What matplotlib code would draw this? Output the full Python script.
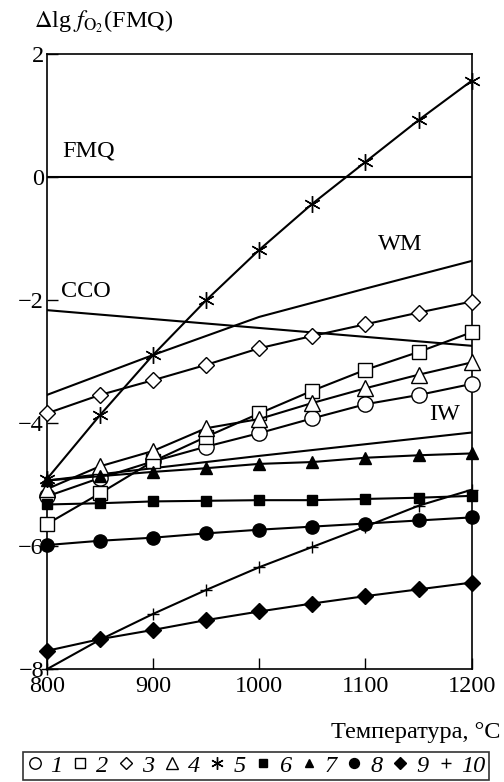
import numpy as np
import matplotlib
matplotlib.use('Agg')
import matplotlib.pyplot as plt
from matplotlib.lines import Line2D

plt.rcParams['font.family'] = ['Liberation Serif', 'DejaVu Serif']
plt.rcParams['mathtext.fontset'] = 'stix'

# temperature grid, deg C
temps = [800, 850, 900, 950, 1000, 1050, 1100, 1150, 1200]

# buffer curves (dlg fO2 relative to FMQ)
fmq = [0, 0, 0, 0, 0, 0, 0, 0, 0]
wm_t = [800, 900, 1000, 1100, 1200]
wm = [-3.54, -2.89, -2.27, -1.81, -1.36]
cco_t = [800, 1200]
cco = [-2.16, -2.74]
iw_t = [800, 900, 1000, 1100, 1200]
iw = [-4.93, -4.73, -4.53, -4.34, -4.15]

# samples 1..10
s1 = [-5.19, -4.89, -4.62, -4.38, -4.16, -3.92, -3.69, -3.54, -3.36]
s2 = [-5.64, -5.14, -4.62, -4.22, -3.84, -3.47, -3.13, -2.84, -2.52]
s3 = [-3.84, -3.54, -3.30, -3.05, -2.78, -2.58, -2.39, -2.20, -2.02]
s4 = [-5.07, -4.70, -4.45, -4.08, -3.93, -3.67, -3.43, -3.21, -3.01]
s5 = [-4.91, -3.87, -2.89, -2.00, -1.18, -0.43, 0.25, 0.93, 1.57]
s6 = [-5.32, -5.30, -5.27, -5.26, -5.25, -5.25, -5.23, -5.21, -5.18]
s7 = [-4.93, -4.86, -4.79, -4.73, -4.66, -4.63, -4.56, -4.52, -4.49]
s8 = [-5.98, -5.91, -5.86, -5.79, -5.73, -5.68, -5.63, -5.58, -5.53]
s9 = [-7.70, -7.51, -7.36, -7.20, -7.06, -6.93, -6.81, -6.70, -6.59]
s10 = [-8.00, -7.52, -7.10, -6.71, -6.34, -6.01, -5.68, -5.34, -5.08]

labels = ['1', '2', '3', '4', '5', '6', '7', '8', '9', '10']

fs = 17.5

fig = plt.figure(figsize=(5.04, 7.82), dpi=100)
ax = fig.add_axes([0.0927, 0.1441, 0.8433, 0.7865])

lw = 1.5
ax.plot(temps, fmq, color='k', lw=lw)
ax.plot(wm_t, wm, color='k', lw=lw)
ax.plot(cco_t, cco, color='k', lw=lw)
ax.plot(iw_t, iw, color='k', lw=lw)

series = [
    (s1, dict(marker='o', ms=11, mfc='white', mec='k', mew=1.0)),
    (s2, dict(marker='s', ms=10, mfc='white', mec='k', mew=1.0)),
    (s3, dict(marker='D', ms=8.5, mfc='white', mec='k', mew=1.0)),
    (s4, dict(marker='^', ms=11, mfc='white', mec='k', mew=1.0)),
    (s5, dict(marker=(6, 2, 0), ms=12, mfc='k', mec='k', mew=1.0)),
    (s6, dict(marker='s', ms=7.5, mfc='k', mec='k')),
    (s7, dict(marker='^', ms=8, mfc='k', mec='k')),
    (s8, dict(marker='o', ms=9.5, mfc='k', mec='k')),
    (s9, dict(marker='D', ms=8, mfc='k', mec='k')),
    (s10, dict(marker='+', ms=9, mfc='k', mec='k', mew=1.0)),
]

handles = []
for (vals, st), lab in zip(series, labels):
    ax.plot(temps, vals, color='k', lw=lw, clip_on=False, zorder=3, **st)
    hst = dict(st)
    hst['ms'] = st['ms'] * 0.75
    handles.append(Line2D([], [], ls='none', color='k', **hst))

ax.text(815, 0.42, 'FMQ', fontsize=fs, va='center', ha='left')
ax.text(813, -1.86, 'CCO', fontsize=fs, va='center', ha='left')
ax.text(1112, -1.1, 'WM', fontsize=fs, va='center', ha='left')
ax.text(1160, -3.86, 'IW', fontsize=fs, va='center', ha='left')

ax.set_xlim(800, 1200)
ax.set_ylim(-8, 2)
ax.set_xticks([800, 900, 1000, 1100, 1200])
ax.set_yticks([2, 0, -2, -4, -6, -8])
ax.set_yticklabels(['2', '0', '\u22122', '\u22124', '\u22126', '\u22128'])
ax.tick_params(direction='in', length=8, width=1.0, labelsize=fs, pad=2)
ax.tick_params(axis='x', pad=5)
for sp in ax.spines.values():
    sp.set_linewidth(1.2)

fig.text(0.068, 0.972, r'$\Delta$lg $f_{\mathrm{O_2}}$(FMQ)', fontsize=fs,
         ha='left', va='center')
fig.text(0.993, 0.063, 'Температура, °C', fontsize=fs, ha='right', va='center')

leg = fig.legend(handles, labels, loc='center', bbox_to_anchor=(0.508, 0.021),
                 ncol=10, frameon=True, fancybox=False,
                 handlelength=0.7, handletextpad=0.3, columnspacing=0.38,
                 borderpad=0.12, borderaxespad=0,
                 prop={'style': 'italic', 'size': 17.5})
leg.get_frame().set_edgecolor('k')
leg.get_frame().set_linewidth(1.2)

fig.savefig('out.png', dpi=100)
